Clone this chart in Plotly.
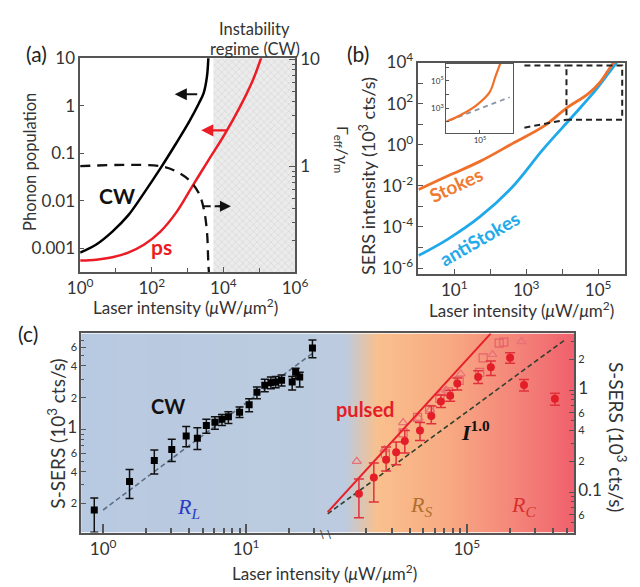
import math
import plotly.graph_objects as go

W, H = 640, 587
def fx(p): return p / W
def fy(p): return 1 - p / H

FONT = "Lato, 'Open Sans', sans-serif"
SERIF = "'Liberation Serif', 'DejaVu Serif', serif"
AX = '#555555'
TXT = '#333333'
RED = '#ec1c24'

# ---------------- Panel (a) data ----------------
a_cw_x = [1, 2.82, 7.94, 21.9, 61.7, 174, 490, 1096, 2042, 2818, 3467, 3802]
a_cw_y = [0.00081, 0.0012, 0.00224, 0.0049, 0.0148, 0.0479, 0.166, 0.457, 1.10, 1.86, 4.07, 10.5]
a_ps_x = [1, 2.82, 7.94, 21.9, 61.7, 174, 490, 1349, 3802, 10715, 30200, 67600, 114800]
a_ps_y = [0.00055, 0.000575, 0.000646, 0.00081, 0.0012, 0.00224, 0.00575, 0.02, 0.0708, 0.245, 1.0, 3.55, 10.5]
a_gam_x = [1, 174, 490, 1096, 2042, 2818, 3467, 3802, 3981]
a_gam_y = [1.0, 1.0, 0.89, 0.74, 0.56, 0.40, 0.245, 0.12, 0.098]
a_instab = [5250, 1e6]          # instability regime (x range)
a_xticks = [1, 1e2, 1e4, 1e6]
a_xticktext = ['10<sup>0</sup>', '10<sup>2</sup>', '10<sup>4</sup>', '10<sup>6</sup>']
a_yticks = [0.001, 0.01, 0.1, 1, 10]
a_yticktext = ['0.001', '0.01', '0.1', '1', '10']
a_y2ticks = [0.1, 1, 10]
a_y2ticktext = ['0.1', '1', '10']

# ---------------- Panel (b) data ----------------
b_st_x = [1.02, 6.5, 52, 400, 3020, 13200, 53700, 120000, 209000, 282000]
b_st_y = [0.0066, 0.030, 0.155, 1.10, 7.76, 60.3, 309, 1259, 5250, 11000]
b_as_x = [1.02, 6.5, 52, 400, 3020, 19000, 83000, 186000, 340000]
b_as_y = [4.07e-6, 2.5e-5, 3.16e-4, 8.3e-3, 0.63, 22.9, 427, 2690, 11000]
b_box_x = [10**4.12, 10**5.67]
b_box_y = [10**1.22, 10**3.85]
b_link_x = [10**2.95, 10**4.12]
b_link_y = [10**0.83, 10**1.22]
b_in_st_x = [10**4.47, 10**4.697, 10**4.944, 10**5.152, 10**5.247, 10**5.323]
b_in_st_y = [10**2.02, 10**2.5, 10**3.21, 10**4.16, 10**5.35, 10**6.3]
b_in_ref_x = [10**4.52, 10**5.47]
b_in_ref_y = [10**2.1, 10**3.8]

# ---------------- Panel (c) data ----------------
c_cw_x = [0.867, 1.53, 2.28, 3.02, 3.81, 4.56, 5.27, 6.05, 6.78, 7.52, 9.0, 10.5,
          11.9, 13.5, 14.9, 16.1, 17.7, 21.0, 22.2, 23.7, 29.1]
c_cw_y = [0.174, 0.324, 0.51, 0.65, 0.87, 0.83, 1.09, 1.17, 1.25, 1.32, 1.46, 1.72,
          2.25, 2.62, 2.77, 2.82, 2.92, 2.82, 3.48, 3.13, 5.9]
c_cw_ep = [0.052, 0.096, 0.13, 0.16, 0.20, 0.21, 0.16, 0.15, 0.14, 0.15, 0.17, 0.23,
           0.28, 0.36, 0.36, 0.36, 0.36, 0.35, 0.32, 0.35, 1.13]
c_cw_em = [0.067, 0.10, 0.13, 0.15, 0.18, 0.18, 0.165, 0.16, 0.16, 0.18, 0.16, 0.25,
           0.30, 0.34, 0.34, 0.34, 0.34, 0.46, 0.46, 0.60, 1.13]
c_cw_fit_x = [1.0, 30.4]
c_cw_fit_y = [0.174, 5.5]

c_ps_x = [1.78e4, 2.26e4, 2.75e4, 3.23e4, 3.71e4, 4.73e4, 5.67e4, 6.61e4, 7.67e4, 8.6e4,
          1.2e5, 1.47e5, 2.0e5, 2.5e5, 4.1e5]
c_ps_y = [0.096, 0.139, 0.207, 0.245, 0.316, 0.40, 0.557, 0.774, 0.877, 1.16,
          1.34, 1.67, 2.07, 1.12, 0.82]
c_ps_ep = [0.038, 0.054, 0.07, 0.065, 0.085, 0.08, 0.14, 0.12, 0.12, 0.15, 0.21, 0.26, 0.25, 0.15, 0.11]
c_ps_em = [0.040, 0.059, 0.046, 0.06, 0.075, 0.08, 0.09, 0.10, 0.10, 0.16, 0.18, 0.28, 0.24, 0.14, 0.11]
c_sq_x = [2.72e4, 3.61e4, 4.55e4, 5.52e4, 6.5e4, 7.47e4, 8.85e4, 1.23e5, 1.3e5, 1.68e5, 1.81e5]
c_sq_y = [0.24, 0.38, 0.54, 0.645, 0.83, 0.96, 1.24, 1.49, 2.07, 2.88, 2.95]
c_tr_x = [1.72e4, 2.68e4, 3.61e4, 4.62e4, 5.58e4, 6.68e4, 7.2e4, 9.08e4, 1.51e5, 2.4e5]
c_tr_y = [0.2, 0.26, 0.48, 0.53, 0.64, 0.93, 1.0, 1.44, 2.23, 2.99]
c_ps_fit_x = [1.08e4, 1.47e5]
c_ps_fit_y = [0.0635, 3.59]
c_lin_x = [1.08e4, 4.8e5]
c_lin_y = [0.061, 3.1]
c_bg_pos = [i / 100 for i in range(-1, 102)]
c_bg_stops = [[0, '#b8cae1'], [0.535, '#bccbdf'], [0.6, '#f9c08d'], [0.74, '#f8aa82'],
              [0.88, '#f4857a'], [1, '#f0606c']]

fig = go.Figure()

# ---- (a) traces
fig.add_trace(go.Scatter(x=[a_instab[0], a_instab[1], a_instab[1], a_instab[0]],
                         y=[10**-3.5, 10**-3.5, 10, 10], fill='toself', mode='none',
                         fillcolor='#e8e8e8',
                         fillpattern=dict(shape='x', size=5, solidity=0.25, fgcolor='#c2c2c2', bgcolor='#ebebeb'),
                         xaxis='x', yaxis='y', hoverinfo='skip'))
fig.add_trace(go.Scatter(x=a_cw_x, y=a_cw_y, mode='lines', line=dict(color='black', width=2.5, shape='spline'),
                         xaxis='x', yaxis='y'))
fig.add_trace(go.Scatter(x=a_ps_x, y=a_ps_y, mode='lines', line=dict(color=RED, width=2.5, shape='spline'),
                         xaxis='x', yaxis='y'))
fig.add_trace(go.Scatter(x=a_gam_x, y=a_gam_y, mode='lines',
                         line=dict(color='#111', width=2.3, dash='10px,7px', shape='spline'),
                         xaxis='x', yaxis='y2'))
fig.add_trace(go.Scatter(x=[10**3.45, 10**4.0], y=[10**-0.376] * 2, mode='lines',
                         line=dict(color='#111', width=2, dash='7px,4px'), xaxis='x', yaxis='y2'))

# ---- (b) traces
fig.add_trace(go.Scatter(x=b_as_x, y=b_as_y, mode='lines', line=dict(color='#1fa9ea', width=2.8, shape='spline'),
                         xaxis='x2', yaxis='y3'))
fig.add_trace(go.Scatter(x=b_st_x, y=b_st_y, mode='lines', line=dict(color='#f0702a', width=2.8, shape='spline'),
                         xaxis='x2', yaxis='y3'))
fig.add_trace(go.Scatter(x=[b_box_x[0], b_box_x[1], b_box_x[1], b_box_x[0], b_box_x[0]],
                         y=[b_box_y[1], b_box_y[1], b_box_y[0], b_box_y[0], b_box_y[1]], mode='lines',
                         line=dict(color='#222', width=2, dash='6px,4px'), xaxis='x2', yaxis='y3'))
fig.add_trace(go.Scatter(x=[b_link_x[0], b_box_x[0]], y=[b_box_y[1], b_box_y[1]], mode='lines',
                         line=dict(color='#222', width=2, dash='6px,4px'), xaxis='x2', yaxis='y3'))
fig.add_trace(go.Scatter(x=b_link_x, y=b_link_y, mode='lines',
                         line=dict(color='#222', width=2, dash='6px,4px'), xaxis='x2', yaxis='y3'))
# inset
fig.add_trace(go.Scatter(x=b_in_ref_x, y=b_in_ref_y, mode='lines',
                         line=dict(color='#8a96a8', width=1.8, dash='5px,4px'), xaxis='x3', yaxis='y4'))
fig.add_trace(go.Scatter(x=b_in_st_x, y=b_in_st_y, mode='lines', line=dict(color='#f0702a', width=2.2, shape='spline'),
                         xaxis='x3', yaxis='y4'))

# ---- (c) background gradient
fig.add_trace(go.Heatmap(x=c_bg_pos, y=[0, 1], z=[c_bg_pos, c_bg_pos], colorscale=c_bg_stops,
                         zmin=0, zmax=1, zsmooth='best', showscale=False, hoverinfo='skip',
                         xaxis='x4', yaxis='y5'))
# CW
fig.add_trace(go.Scatter(x=c_cw_fit_x, y=c_cw_fit_y, mode='lines',
                         line=dict(color='#5d6d84', width=1.6, dash='5px,3px'), xaxis='x5', yaxis='y6'))
fig.add_trace(go.Scatter(x=c_cw_x, y=c_cw_y, mode='markers',
                         marker=dict(symbol='square', size=7, color='black'),
                         error_y=dict(type='data', array=c_cw_ep, arrayminus=c_cw_em, color='#111',
                                      thickness=1.5, width=4),
                         xaxis='x5', yaxis='y6'))
# pulsed
fig.add_trace(go.Scatter(x=c_lin_x, y=c_lin_y, mode='lines',
                         line=dict(color='#33402f', width=1.6, dash='5px,3px'), xaxis='x6', yaxis='y7'))
fig.add_trace(go.Scatter(x=c_sq_x, y=c_sq_y, mode='markers',
                         marker=dict(symbol='square-open', size=8, color='#e8606a', line=dict(width=1.2)),
                         xaxis='x6', yaxis='y7'))
fig.add_trace(go.Scatter(x=c_tr_x, y=c_tr_y, mode='markers',
                         marker=dict(symbol='triangle-up-open', size=8, color='#e8707a', line=dict(width=1.2)),
                         xaxis='x6', yaxis='y7'))
fig.add_trace(go.Scatter(x=c_ps_fit_x, y=c_ps_fit_y, mode='lines',
                         line=dict(color='#e8202a', width=2), xaxis='x6', yaxis='y7'))
fig.add_trace(go.Scatter(x=c_ps_x, y=c_ps_y, mode='markers',
                         marker=dict(symbol='circle', size=8, color='#e41e28'),
                         error_y=dict(type='data', array=c_ps_ep, arrayminus=c_ps_em, color='#e0303a',
                                      thickness=1.5, width=5),
                         xaxis='x6', yaxis='y7'))

base_ax = dict(showgrid=False, zeroline=False, showline=True, linecolor=AX, linewidth=1.5,
               ticks='inside', tickcolor=AX, tickwidth=1.2, color=TXT,
               tickfont=dict(family=FONT, size=17, color=TXT))

def ax(**kw):
    d = dict(base_ax)
    d.update(kw)
    return d

big = lambda s: '<span style="font-size:17px">' + s + '</span>'

fig.update_layout(
    width=W, height=H, margin=dict(l=0, r=0, t=0, b=0),
    paper_bgcolor='white', plot_bgcolor='rgba(0,0,0,0)', showlegend=False,
    font=dict(family=FONT, color=TXT),
    xaxis=ax(domain=[fx(70), fx(294)], anchor='y', type='log', range=[0, 6], mirror=True,
             tickvals=a_xticks, ticktext=a_xticktext, ticklen=5,
             minor=dict(tickvals=[10, 1e3, 1e5], ticks='inside', ticklen=4, tickcolor=AX)),
    yaxis=ax(domain=[fy(266.7), fy(46.5)], anchor='x', type='log', range=[-3.5, 1], mirror=True,
             tickvals=a_yticks, ticktext=a_yticktext, ticklen=4),
    yaxis2=ax(overlaying='y', side='right', anchor='x', type='log', range=[-0.99, 1.01],
              tickvals=a_y2ticks, ticktext=a_y2ticktext, ticklen=6,
              minor=dict(tickvals=[0.2, 0.3, 0.4, 0.5, 0.6, 0.7, 0.8, 0.9, 2, 3, 4, 5, 6, 7, 8, 9],
                         ticks='inside', ticklen=3, tickcolor=AX)),
    xaxis2=ax(domain=[fx(422.5), fx(638)], anchor='y3', type='log', range=[0, 5.75], mirror=True,
              tickvals=[10, 1e3, 1e5], ticktext=['10<sup>1</sup>', '10<sup>3</sup>', '10<sup>5</sup>'], ticklen=5,
              minor=dict(tickvals=[1e2, 1e4], ticks='inside', ticklen=5, tickcolor=AX)),
    yaxis3=ax(domain=[fy(269), fy(51)], anchor='x2', type='log', range=[-6.3, 4], mirror=True,
              tickvals=[1e-6, 1e-4, 1e-2, 1, 1e2, 1e4],
              ticktext=['10<sup>-6</sup>', '10<sup>-4</sup>', '10<sup>-2</sup>', '10<sup>0</sup>',
                        '10<sup>2</sup>', '10<sup>4</sup>'], ticklen=5,
              minor=dict(tickvals=[1e-5, 1e-3, 0.1, 10, 1e3], ticks='inside', ticklen=5, tickcolor=AX)),
    xaxis3=ax(domain=[fx(451.7), fx(521)], anchor='y4', type='log', range=[4.47, 5.52], mirror=True,
              linewidth=1.2, tickvals=[1e5], ticktext=['10<sup>5</sup>'], ticklen=3,
              tickfont=dict(family=FONT, size=8, color=TXT)),
    yaxis4=ax(domain=[fy(123.3), fy(52.3)], anchor='x3', type='log', range=[1.19, 6.26], mirror=True,
              linewidth=1.2, tickvals=[10, 1e3, 1e5], ticktext=['10<sup>1</sup>', '10<sup>3</sup>', '10<sup>5</sup>'],
              ticklen=3, tickfont=dict(family=FONT, size=8, color=TXT),
              minor=dict(tickvals=[1e2, 1e4, 1e6], ticks='inside', ticklen=3, tickcolor=AX)),
    xaxis4=dict(domain=[fx(71), fx(585)], anchor='y5', range=[0, 1], visible=False, fixedrange=True),
    yaxis5=dict(domain=[fy(535), fy(330)], anchor='x4', range=[0, 1], visible=False, fixedrange=True),
    xaxis5=ax(domain=[fx(71), fx(326.6)], anchor='y6', type='log', range=[-0.154, 1.561], mirror=True,
              tickvals=[1, 10], ticktext=['10<sup>0</sup>', '10<sup>1</sup>'], ticklen=9, tickwidth=1.5,
              minor=dict(tickvals=[2, 3, 4, 5, 6, 7, 8, 9, 20, 30], ticks='inside', ticklen=5, tickcolor=AX)),
    yaxis6=ax(domain=[fy(535), fy(330)], anchor='x5', type='log', range=[-0.972, 0.908],
              tickvals=[0.2, 0.4, 0.6, 1, 2, 4, 6], ticktext=['2', '4', '6', big('1'), '2', '4', '6'],
              tickfont=dict(family=FONT, size=11, color=TXT), ticklen=5,
              minor=dict(tickvals=[0.3, 0.5, 0.7, 0.8, 0.9, 3, 5, 7, 8], ticks='inside', ticklen=3, tickcolor=AX)),
    xaxis6=ax(domain=[fx(326.6), fx(585)], anchor='y7', type='log', range=[4.024, 5.747], mirror=True,
              tickvals=[1e5], ticktext=['10<sup>5</sup>'], ticklen=9, tickwidth=1.5,
              minor=dict(tickvals=[2e4, 3e4, 4e4, 5e4, 6e4, 7e4, 8e4, 9e4, 2e5, 3e5, 4e5, 5e5],
                         ticks='inside', ticklen=5, tickcolor=AX)),
    yaxis7=ax(domain=[fy(535), fy(330)], anchor='x6', side='right', type='log', range=[-1.397, 0.555],
              tickvals=[0.04, 0.06, 0.1, 0.2, 0.4, 0.6, 1, 2],
              ticktext=['4', '6', big('0.1'), '2', '4', '6', big('1'), '2'],
              tickfont=dict(family=FONT, size=11, color=TXT), ticklen=5,
              minor=dict(tickvals=[0.05, 0.07, 0.08, 0.09, 0.3, 0.5, 0.7, 0.8, 0.9, 3],
                         ticks='inside', ticklen=3, tickcolor=AX)),
)

ann = []
def text(x, y, s, size=15, color=TXT, angle=0, family=FONT, **kw):
    d = dict(x=fx(x), y=fy(y), xref='paper', yref='paper', text=s, showarrow=False,
             textangle=angle, font=dict(family=family, size=size, color=color),
             xanchor='center', yanchor='middle')
    d.update(kw)
    ann.append(d)

# (a)
text(25, 42, '(a)', size=21, color='#222')
text(252, 16, 'Instability', size=16.5)
text(252, 37, 'regime (CW)', size=16.5)
text(17, 153, 'Phonon population', size=16.5, angle=-90)
text(180, 302, 'Laser intensity (<i>μ</i>W/<i>μ</i>m<sup>2</sup>)', size=17)
text(343, 140, 'Γ<sub>eff</sub>/γ<sub>m</sub>', size=16, angle=90)
text(108, 188, '<b>CW</b>', size=21, color='#111')
text(155, 240, '<b>ps</b>', size=21, color=RED)
ann.append(dict(x=2.64, y=0.24, ax=3.31, ay=0.24, xref='x', yref='y', axref='x', ayref='y',
                showarrow=True, arrowhead=2, arrowsize=1.1, arrowwidth=2.2, arrowcolor='#111', text=''))
ann.append(dict(x=3.38, y=-0.52, ax=4.12, ay=-0.52, xref='x', yref='y', axref='x', ayref='y',
                showarrow=True, arrowhead=2, arrowsize=1.1, arrowwidth=2.2, arrowcolor=RED, text=''))
ann.append(dict(x=4.21, y=-0.376, ax=-14, ay=0, xref='x', yref='y2', axref='pixel', ayref='pixel',
                showarrow=True, arrowhead=2, arrowsize=1.1, arrowwidth=2, arrowcolor='#111', text='',
                standoff=0))
# (b)
text(360, 42, '(b)', size=21, color='#222')
text(370, 168, 'SERS intensity (10<sup>3</sup> cts/s)', size=18, angle=-90)
text(530, 305, 'Laser intensity (<i>μ</i>W/<i>μ</i>m<sup>2</sup>)', size=17)
text(462, 177, '<b>Stokes</b>', size=19, color='#f07a30', angle=-25)
text(486, 232, '<b>antiStokes</b>', size=19, color='#22aaea', angle=-30)
# (c)
text(16, 330, '(c)', size=21, color='#222')
text(45, 433, 'S-SERS (10<sup>3</sup> cts/s)', size=19, angle=-90)
text(630, 437, 'S-SERS (10<sup>3</sup> cts/s)', size=19, angle=90)
text(325, 576, 'Laser intensity (<i>μ</i>W/<i>μ</i>m<sup>2</sup>)', size=17)
text(162, 405, '<b>CW</b>', size=20, color='#111')
text(367, 408, '<b>pulsed</b>', size=20, color='#e41e28')
text(482, 430, '<b><i>I</i><sup>1.0</sup></b>', size=22, color='#111', family=SERIF)
text(183, 510, '<i>R<sub>L</sub></i>', size=22, color='#2b3cc0', family=SERIF)
text(425, 508, '<i>R<sub>S</sub></i>', size=22, color='#b07030', family=SERIF)
text(532, 508, '<i>R<sub>C</sub></i>', size=22, color='#d83030', family=SERIF)
text(326, 537, '\\ \\', size=11, color='#444', family='DejaVu Sans')

fig.update_layout(annotations=ann)
fig.write_html('out.html')
